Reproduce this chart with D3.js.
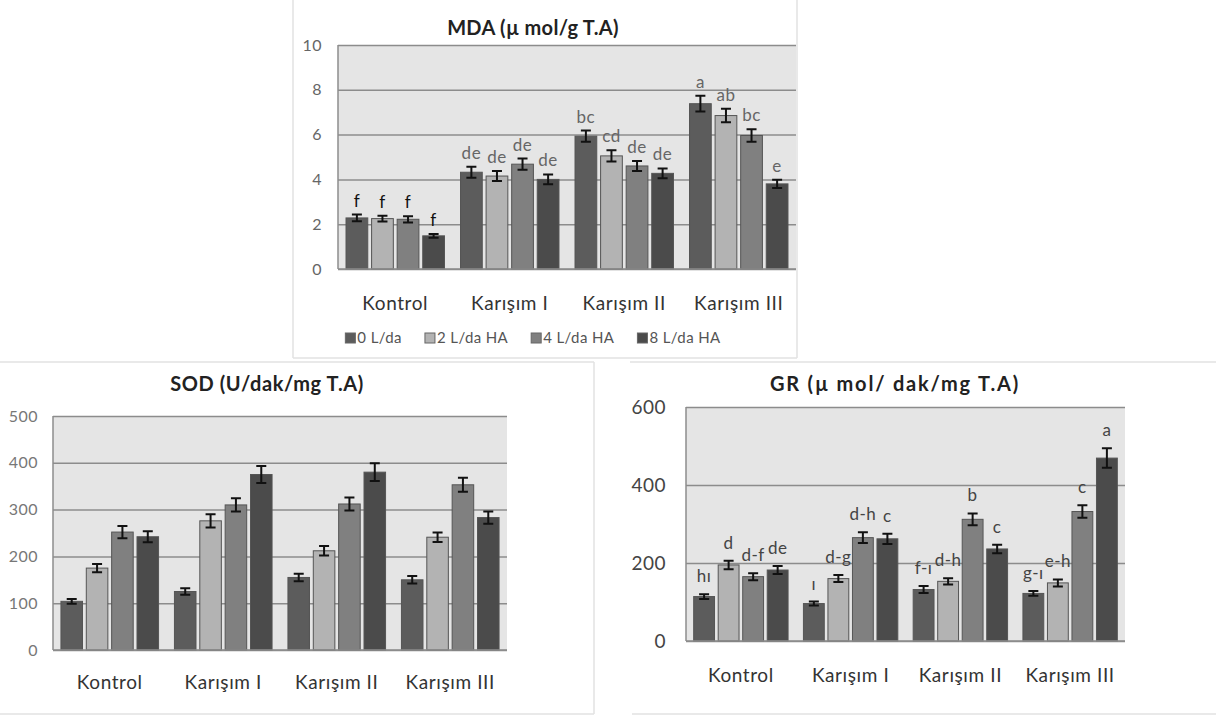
<!DOCTYPE html>
<html>
<head>
<meta charset="utf-8">
<script src="https://cdn.jsdelivr.net/npm/d3@7"></script>
<style>
  body { margin: 0; background: #fff; }
  text { font-family: Lato, "Open Sans", sans-serif; }
</style>
</head>
<body>
<svg id="chart" width="1216" height="716"></svg>
<script>
// Shared categories and series
const categories = ["Kontrol", "Karışım I", "Karışım II", "Karışım III"];
const seriesNames = ["0 L/da", "2 L/da HA", "4 L/da HA", "8 L/da HA"];
const seriesColors = ["#5c5c5c", "#b3b3b3", "#808080", "#4b4b4b"];

// MDA (rows = category, cols = series)
const mdaMeans = [
  [2.28, 2.25, 2.22, 1.48],
  [4.32, 4.15, 4.68, 4.0],
  [5.93, 5.05, 4.6, 4.27],
  [7.38, 6.85, 5.96, 3.8],
];
const mdaErrors = [
  [0.15, 0.13, 0.14, 0.08],
  [0.25, 0.22, 0.25, 0.22],
  [0.25, 0.25, 0.22, 0.22],
  [0.35, 0.3, 0.28, 0.18],
];
const mdaLetters = [
  ["f", "f", "f", "f"],
  ["de", "de", "de", "de"],
  ["bc", "cd", "de", "de"],
  ["a", "ab", "bc", "e"],
];
const mdaTicks = [0, 2, 4, 6, 8, 10];

// SOD
const sodMeans = [
  [104, 175, 252, 242],
  [125, 276, 310, 375],
  [155, 212, 312, 380],
  [150, 241, 353, 283],
];
const sodErrors = [
  [5, 9, 13, 12],
  [7, 14, 14, 18],
  [8, 10, 14, 19],
  [8, 10, 15, 13],
];
const sodTicks = [0, 100, 200, 300, 400, 500];

// GR
const grMeans = [
  [114, 195, 165, 182],
  [96, 160, 265, 262],
  [132, 153, 312, 236],
  [122, 149, 332, 469],
];
const grErrors = [
  [6, 11, 9, 10],
  [5, 9, 14, 13],
  [9, 8, 15, 11],
  [6, 9, 16, 25],
];
const grLetters = [
  ["hı", "d", "d-f", "de"],
  ["ı", "d-g", "d-h", "c"],
  ["f-ı", "d-h", "b", "c"],
  ["g-ı", "e-h", "c", "a"],
];
const grTicks = [0, 200, 400, 600];

const svg = d3.select("#chart");

// faint panel borders
const borders = [
  [293, 0, 293, 358], [797, 0, 797, 358], [293, 358, 797, 358],
  [0, 362, 594, 362], [594, 362, 594, 714], [0, 714, 594, 714],
  [630, 362, 1216, 362], [632, 714, 1216, 714],
];
svg.append("g").selectAll("line").data(borders).join("line")
  .attr("x1", d => d[0]).attr("y1", d => d[1])
  .attr("x2", d => d[2]).attr("y2", d => d[3])
  .attr("stroke", "#e2e2e2").attr("stroke-width", 1.5);

function drawPanel(cfg) {
  const g = svg.append("g");
  const x0 = d3.scaleBand().domain(categories).range([cfg.left, cfg.right]);
  const bw = x0.bandwidth();
  const x1 = d3.scaleBand().domain(d3.range(4))
    .range([bw * 0.07, bw * 0.93]).paddingInner(0.15);
  const y = d3.scaleLinear().domain([0, cfg.ticks[cfg.ticks.length - 1]])
    .range([cfg.bottom, cfg.top]);

  // plot background
  g.append("rect")
    .attr("x", cfg.left).attr("y", cfg.top)
    .attr("width", cfg.right - cfg.left).attr("height", cfg.bottom - cfg.top)
    .attr("fill", "#e5e5e5");

  // y axis with gridlines
  const yAxis = g.append("g")
    .attr("transform", `translate(${cfg.left},0)`)
    .call(d3.axisLeft(y).tickValues(cfg.ticks)
      .tickSize(-(cfg.right - cfg.left)).tickPadding(cfg.tickPad));
  yAxis.select(".domain").remove();
  yAxis.selectAll("line").attr("stroke", "#8c8c8c").attr("stroke-width", 1.5);
  yAxis.selectAll("text")
    .attr("fill", cfg.tickColor)
    .style("font-size", cfg.tickFont + "px")
    .style("letter-spacing", "0.5px");

  // left axis line
  g.append("line")
    .attr("x1", cfg.left).attr("x2", cfg.left)
    .attr("y1", cfg.top).attr("y2", cfg.bottom)
    .attr("stroke", "#8c8c8c").attr("stroke-width", 1.5);

  // flatten data
  const data = [];
  categories.forEach((c, i) => {
    for (let s = 0; s < 4; s++) {
      data.push({
        cat: c, s,
        v: cfg.means[i][s],
        e: cfg.errors[i][s],
        lab: cfg.letters ? cfg.letters[i][s] : null,
      });
    }
  });

  const groups = g.append("g").selectAll("g").data(data).join("g")
    .attr("transform", d => `translate(${x0(d.cat) + x1(d.s)},0)`);

  groups.append("rect")
    .attr("x", 0)
    .attr("y", d => y(d.v))
    .attr("width", x1.bandwidth())
    .attr("height", d => y(0) - y(d.v))
    .attr("fill", d => seriesColors[d.s])
    .attr("stroke", "#555")
    .attr("stroke-width", 1);

  // error bars
  const cx = x1.bandwidth() / 2;
  const cap = 5;
  groups.append("path")
    .attr("d", d => {
      const t = y(d.v + d.e), b = y(d.v - d.e);
      return `M${cx},${t}V${b}M${cx - cap},${t}H${cx + cap}M${cx - cap},${b}H${cx + cap}`;
    })
    .attr("stroke", "#111").attr("stroke-width", 2).attr("fill", "none");

  // letters
  if (cfg.letters) {
    groups.append("text")
      .attr("x", cx)
      .attr("y", d => y(d.v + d.e) - cfg.letterGap)
      .attr("text-anchor", "middle")
      .attr("fill", d => (d.lab === "f" ? "#111" : cfg.letterColor))
      .style("font-size", cfg.letterFont + "px")
      .style("letter-spacing", "0.5px")
      .text(d => d.lab);
  }

  // bottom axis line
  g.append("line")
    .attr("x1", cfg.left).attr("x2", cfg.right)
    .attr("y1", cfg.bottom).attr("y2", cfg.bottom)
    .attr("stroke", "#8c8c8c").attr("stroke-width", 1.5);

  // category labels
  const xAxis = g.append("g")
    .attr("transform", `translate(0,${cfg.bottom})`)
    .call(d3.axisBottom(x0).tickSize(0).tickPadding(cfg.catPad));
  xAxis.select(".domain").remove();
  xAxis.selectAll("text")
    .attr("fill", "#333")
    .style("font-size", "19px")
    .style("letter-spacing", "0.6px");

  // title
  g.append("text")
    .attr("x", cfg.titleX).attr("y", cfg.titleY)
    .attr("text-anchor", "middle")
    .attr("fill", "#222")
    .style("font-size", "20px")
    .style("font-weight", "bold")
    .style("letter-spacing", cfg.titleSpacing + "px")
    .text(cfg.title);
}

drawPanel({
  title: "MDA (µ mol/g T.A)", titleX: 533, titleY: 35, titleSpacing: 0.3,
  left: 338, right: 796, top: 45, bottom: 269,
  ticks: mdaTicks, tickPad: 16, tickFont: 16, tickColor: "#666",
  means: mdaMeans, errors: mdaErrors, letters: mdaLetters,
  letterGap: 8, letterFont: 17, letterColor: "#666", catPad: 28,
});

drawPanel({
  title: "SOD (U/dak/mg T.A)", titleX: 267, titleY: 391, titleSpacing: 0.6,
  left: 53, right: 507, top: 416, bottom: 650,
  ticks: sodTicks, tickPad: 15, tickFont: 16, tickColor: "#777",
  means: sodMeans, errors: sodErrors, letters: null, catPad: 26,
});

drawPanel({
  title: "GR (µ mol/ dak/mg  T.A)", titleX: 895, titleY: 391, titleSpacing: 1.8,
  left: 686, right: 1125, top: 407, bottom: 641,
  ticks: grTicks, tickPad: 20, tickFont: 19, tickColor: "#444",
  means: grMeans, errors: grErrors, letters: grLetters,
  letterGap: 12, letterFont: 17, letterColor: "#444", catPad: 28,
});

// legend under MDA
const legend = svg.append("g").attr("transform", "translate(0,343)");
const items = legend.selectAll("g").data(seriesNames).join("g");
items.append("rect")
  .attr("y", -10).attr("width", 10).attr("height", 10)
  .attr("fill", (d, i) => seriesColors[i]).attr("stroke", "#666");
items.append("text")
  .attr("x", 12).attr("fill", "#555")
  .style("font-size", "15px").style("letter-spacing", "0.4px")
  .text(d => d);
let widths = [];
items.each(function () {
  widths.push(12 + d3.select(this).select("text").node().getComputedTextLength());
});
const gap = 23;
const total = d3.sum(widths) + gap * (widths.length - 1);
let cursor = 533 - total / 2;
items.attr("transform", (d, i) => {
  const xPos = cursor;
  cursor += widths[i] + gap;
  return `translate(${xPos},0)`;
});
</script>
</body>
</html>
